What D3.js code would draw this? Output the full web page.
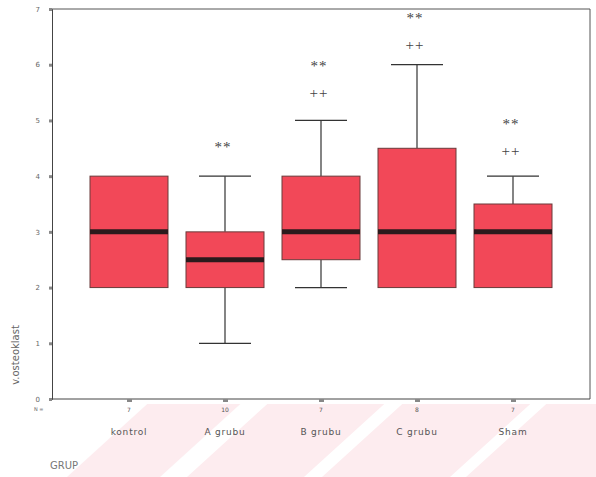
<!DOCTYPE html>
<html>
<head>
<meta charset="utf-8">
<script src="https://cdn.jsdelivr.net/npm/d3@7"></script>
<style>
  body { margin: 0; background: #fff; }
  svg { display: block; }
</style>
</head>
<body>
<div id="chart"></div>
<script>
// DATA
const groups = ["kontrol", "A grubu", "B grubu", "C grubu", "Sham"];
const counts = ["7", "10", "7", "8", "7"];
const whiskerLow = [2, 1, 2, 2, 2];
const q1 = [2, 2, 2.5, 2, 2];
const median = [3, 2.5, 3, 3, 3];
const q3 = [4, 3, 4, 4.5, 3.5];
const whiskerHigh = [4, 4, 5, 6, 4];
const starY = [null, 4.58, 6.03, 6.9, 4.99];   // "**" marks
const plusY = [null, null, 5.51, 6.37, 4.47];  // "++" marks
const yTicks = [0, 1, 2, 3, 4, 5, 6, 7];

const width = 596, height = 477;

const svg = d3.select("#chart").append("svg")
  .attr("width", width)
  .attr("height", height);

// faint watermark stripes under the chart
const wm = svg.append("g").attr("fill", "#fdecef");
[[67, 160], [187, 304], [322, 450], [466, 640]].forEach(s => {
  const y0 = 477, y1 = 404, k = 1.1;
  wm.append("path")
    .attr("d", `M${s[0]},${y0} L${s[1]},${y0} L${s[1] + (y0 - y1) * k},${y1} L${s[0] + (y0 - y1) * k},${y1} Z`);
});
svg.append("rect").attr("x", 0).attr("y", 0).attr("width", width).attr("height", 404).attr("fill", "#fff");

// SCALES
const y = d3.scaleLinear().domain([0, 7]).range([399, 9]);
const x = d3.scalePoint().domain(groups).range([129, 513]);
const boxW = 78, capW = 52;

const data = groups.map((g, i) => ({
  g, n: counts[i], lo: whiskerLow[i], q1: q1[i], med: median[i],
  q3: q3[i], hi: whiskerHigh[i], star: starY[i], plus: plusY[i]
}));

// frame
const left = 52, right = 590;
svg.append("line").attr("x1", left).attr("x2", right).attr("y1", y(7)).attr("y2", y(7))
  .attr("stroke", "#555").attr("stroke-width", 1);
svg.append("line").attr("x1", right).attr("x2", right).attr("y1", y(7)).attr("y2", y(0))
  .attr("stroke", "#555").attr("stroke-width", 1);

// Y AXIS
const yAxis = svg.append("g")
  .attr("transform", `translate(${left},0)`)
  .call(d3.axisLeft(y).tickValues(yTicks).tickFormat(d3.format("d")).tickSize(3).tickPadding(9));
yAxis.select(".domain").attr("stroke", "#444");
yAxis.selectAll(".tick line").attr("stroke", "#888").attr("stroke-width", 3);
yAxis.selectAll(".tick text")
  .attr("fill", "#666").attr("font-size", 7).attr("font-family", "DejaVu Sans");

// X AXIS
const xAxis = svg.append("g")
  .attr("transform", `translate(0,${y(0)})`)
  .call(d3.axisBottom(x).tickSize(3).tickFormat(""));
xAxis.select(".domain").attr("d", `M${left},0H${right}`).attr("stroke", "#444");
xAxis.selectAll(".tick line").attr("stroke", "#888").attr("stroke-width", 5);

// case counts under the axis
svg.append("text").attr("x", 34).attr("y", 411).attr("font-size", 5)
  .attr("fill", "#666").attr("font-family", "DejaVu Sans").text("N =");
svg.selectAll(".cnt").data(data).join("text")
  .attr("x", d => x(d.g)).attr("y", 412)
  .attr("text-anchor", "middle").attr("font-size", 6)
  .attr("fill", "#555").attr("font-family", "DejaVu Sans")
  .text(d => d.n);

// category labels
svg.selectAll(".cat").data(data).join("text")
  .attr("x", d => x(d.g)).attr("y", 435)
  .attr("text-anchor", "middle").attr("font-size", 9)
  .attr("letter-spacing", 0.8)
  .attr("fill", "#555").attr("font-family", "DejaVu Sans")
  .text(d => d.g);

// axis titles
svg.append("text")
  .attr("transform", `translate(19,355) rotate(-90)`)
  .attr("text-anchor", "middle").attr("font-size", 10)
  .attr("fill", "#666").attr("font-family", "DejaVu Sans")
  .text("v.osteoklast");
svg.append("text")
  .attr("x", 50).attr("y", 469).attr("font-size", 10)
  .attr("fill", "#777").attr("font-family", "DejaVu Sans")
  .text("GRUP");

// BOXES
const box = svg.append("g").selectAll("g").data(data).join("g");

box.filter(d => d.hi > d.q3).append("line")
  .attr("x1", d => x(d.g)).attr("x2", d => x(d.g))
  .attr("y1", d => y(d.q3)).attr("y2", d => y(d.hi))
  .attr("stroke", "#333").attr("stroke-width", 1.2);
box.filter(d => d.hi > d.q3).append("line")
  .attr("x1", d => x(d.g) - capW / 2).attr("x2", d => x(d.g) + capW / 2)
  .attr("y1", d => y(d.hi)).attr("y2", d => y(d.hi))
  .attr("stroke", "#333").attr("stroke-width", 1.2);
box.filter(d => d.lo < d.q1).append("line")
  .attr("x1", d => x(d.g)).attr("x2", d => x(d.g))
  .attr("y1", d => y(d.q1)).attr("y2", d => y(d.lo))
  .attr("stroke", "#333").attr("stroke-width", 1.2);
box.filter(d => d.lo < d.q1).append("line")
  .attr("x1", d => x(d.g) - capW / 2).attr("x2", d => x(d.g) + capW / 2)
  .attr("y1", d => y(d.lo)).attr("y2", d => y(d.lo))
  .attr("stroke", "#333").attr("stroke-width", 1.2);

box.append("rect")
  .attr("x", d => x(d.g) - boxW / 2).attr("width", boxW)
  .attr("y", d => y(d.q3)).attr("height", d => y(d.q1) - y(d.q3))
  .attr("fill", "#f24858").attr("stroke", "#6a3a3a").attr("stroke-width", 1);

box.append("line")
  .attr("x1", d => x(d.g) - boxW / 2).attr("x2", d => x(d.g) + boxW / 2)
  .attr("y1", d => y(d.med)).attr("y2", d => y(d.med))
  .attr("stroke", "#2b1a1c").attr("stroke-width", 5);

// significance marks
box.filter(d => d.star != null).append("text")
  .attr("x", d => x(d.g) - 2).attr("y", d => y(d.star) + 8)
  .attr("text-anchor", "middle").attr("font-size", 15)
  .attr("letter-spacing", 1)
  .attr("fill", "#444").attr("font-family", "Liberation Serif")
  .text("**");
box.filter(d => d.plus != null).append("text")
  .attr("x", d => x(d.g) - 2).attr("y", d => y(d.plus) + 6)
  .attr("text-anchor", "middle").attr("font-size", 15)
  .attr("letter-spacing", 1)
  .attr("fill", "#444").attr("font-family", "Liberation Serif")
  .text("++");
</script>
</body>
</html>
